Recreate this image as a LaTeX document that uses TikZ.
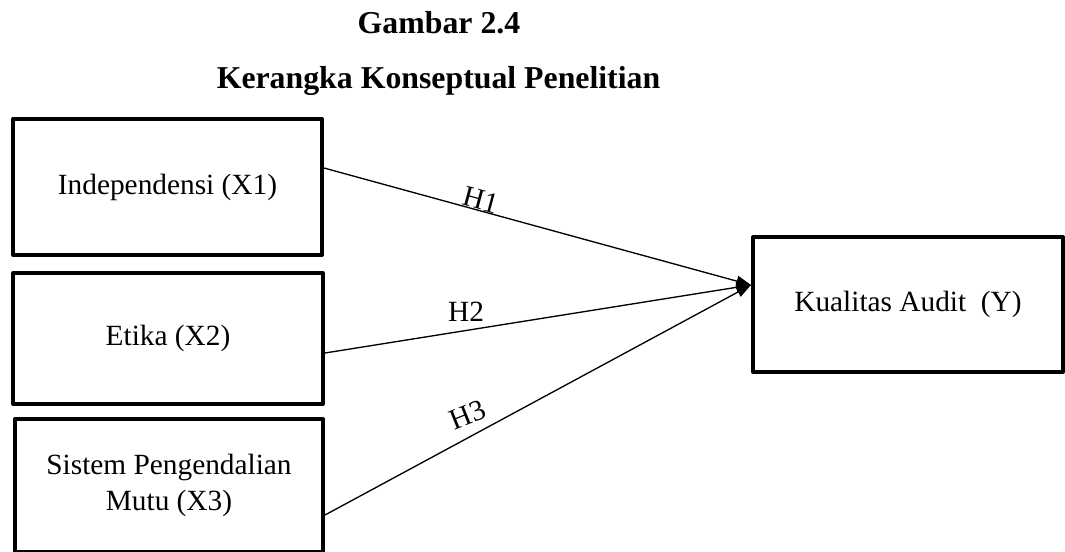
\documentclass[tikz,border=0pt]{standalone}
\usepackage{fontspec}
\setmainfont{Liberation Serif}
\usetikzlibrary{arrows.meta,calc}
\begin{document}
\begin{tikzpicture}[x=0.75pt,y=-0.75pt,
  box/.style={draw,line width=3pt,line join=round,inner sep=0pt,align=center,font=\fontsize{22}{27}\selectfont},
  titletext/.style={font=\fontsize{23.85}{28}\selectfont\bfseries,anchor=base,inner sep=0pt},
  link/.style={line width=1pt,-{Triangle[length=11pt,width=8pt]}},
  hlabel/.style={font=\fontsize{22}{26}\selectfont,inner sep=0pt}]
\useasboundingbox (0,0) rectangle (1065,551);
\node[titletext] (t1) at (439,33) {Gambar 2.4};
\node[titletext] (t2) at (438.5,88) {Kerangka Konseptual Penelitian};
\node[box,minimum width=231.75pt,minimum height=102pt] (b1) at (167.5,187) {Independensi (X1)};
\node[box,minimum width=232.5pt,minimum height=98.25pt] (b2) at (168,338.5) {Etika (X2)};
\node[box,minimum width=231pt,minimum height=99.75pt] (b3) at (169,485.5) {Sistem Pengendalian\\Mutu (X3)};
\node[box,minimum width=232.5pt,minimum height=101.25pt] (y) at (908,304.5) {Kualitas Audit\ \ (Y)};
\coordinate (tip) at ($(y.west)+(0,-19.5)$);
\draw[link] ($(b1.east)+(0,-19)$) -- (tip);
\draw[link] ($(b2.east)+(0,14.5)$) -- (tip);
\draw[link] ($(b3.east)+(0,29.5)$) -- (tip);
\node[hlabel,rotate=-15] (h1) at (481,200) {H1};
\node[hlabel] (h2) at (466,312) {H2};
\node[hlabel,rotate=22] (h3) at (468,415) {H3};
\end{tikzpicture}
\end{document}
